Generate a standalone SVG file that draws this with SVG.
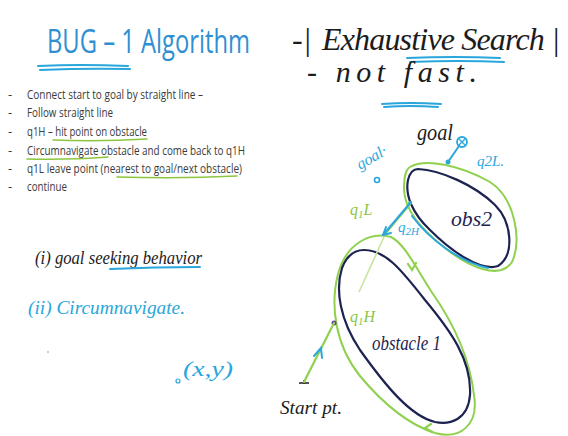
<svg xmlns="http://www.w3.org/2000/svg" width="568" height="436" viewBox="0 0 568 436">
<defs>
<style>
.bg{fill:#ffffff}
.slide{font-family:"Open Sans","Liberation Sans",sans-serif;fill:#3a3a3a;font-size:13px}
.title{font-family:"Open Sans","Liberation Sans",sans-serif;fill:#2f8fd2;font-size:33px}
.hand{font-family:"Liberation Serif","DejaVu Serif",serif;font-style:italic}
.ink{fill:#1c1c1c}
.cyan{fill:#2aa6dc}
.green{fill:#8cc63f}
.navy{fill:#1d2350}
.ul-cyan{stroke:#2aa6dc;stroke-width:2;fill:none;stroke-linecap:round}
.ul-green{stroke:#8cc63f;stroke-width:1.6;fill:none;stroke-linecap:round}
.obs{fill:none;stroke:#1d2350;stroke-width:2.2}
.loop{fill:none;stroke:#8fd14f;stroke-width:2}
.cline{fill:none;stroke:#2aa6dc;stroke-width:2;stroke-linecap:round}
.gline{fill:none;stroke:#8fd14f;stroke-width:2.2;stroke-linecap:round}
.faint{fill:none;stroke:#c5e69a;stroke-width:1.6}
</style>
</defs>
<rect class="bg" x="0" y="0" width="568" height="436"/>

<g id="slide-text">
<text class="title" transform="translate(47 53) scale(0.7 1)" x="0" y="0" textLength="290" lengthAdjust="spacingAndGlyphs">BUG – 1 Algorithm</text>
<path class="ul-cyan" d="M38 66 Q80 64 128 66 M40 70 Q85 68 130 69"/>
<g class="slide">
<text x="8" y="99">-</text><text x="27" y="99" textLength="176" lengthAdjust="spacingAndGlyphs">Connect start to goal by straight line –</text>
<text x="8" y="117">-</text><text x="27" y="117" textLength="86" lengthAdjust="spacingAndGlyphs">Follow straight line</text>
<text x="8" y="136">-</text><text x="27" y="136" textLength="120" lengthAdjust="spacingAndGlyphs">q1H – hit point on obstacle</text>
<text x="8" y="155">-</text><text x="27" y="155" textLength="218" lengthAdjust="spacingAndGlyphs">Circumnavigate obstacle and come back to q1H</text>
<text x="8" y="173">-</text><text x="27" y="173" textLength="215" lengthAdjust="spacingAndGlyphs">q1L  leave point (nearest to goal/next obstacle)</text>
<text x="8" y="191">-</text><text x="27" y="191" textLength="40" lengthAdjust="spacingAndGlyphs">continue</text>
</g>
<path class="ul-green" d="M53 140 Q100 142 147 139 M27 159 Q70 160 108 157 M117 177 Q180 179 237 176"/>
</g>

<g id="notes-left">
<text class="hand ink" x="35" y="264" font-size="18" textLength="167" lengthAdjust="spacingAndGlyphs">(i) goal seeking behavior</text>
<path class="ul-cyan" d="M110 269 Q155 267 200 267" stroke-width="1.6"/>
<text class="hand cyan" x="28" y="314" font-size="18" textLength="157" lengthAdjust="spacingAndGlyphs">(ii) Circumnavigate.</text>
<circle cx="48" cy="352" r="1" fill="#bbbbbb"/>
<circle cx="178" cy="381" r="2" fill="none" stroke="#2aa6dc" stroke-width="1.2"/>
<text class="hand cyan" x="183" y="376" font-size="22" textLength="50" lengthAdjust="spacingAndGlyphs">(x,y)</text>
</g>

<g id="notes-right">
<text class="hand ink" x="292" y="50" font-size="32">-|<tspan x="322" textLength="238" lengthAdjust="spacing">Exhaustive Search |</tspan></text>
<path class="ul-cyan" d="M407 58 Q455 56 500 58 M410 62 Q460 60 504 62"/>
<text class="hand ink" x="307" y="82" font-size="30" textLength="170" lengthAdjust="spacing">- not fast.</text>
<path class="ul-cyan" d="M382 104 Q410 102 441 104 M384 107 Q410 105 438 107"/>
</g>

<g id="obstacle1">
<path class="loop" d="M391 237 C370 231 346 244 338 274 C330 305 335 345 360 376 C385 406 410 425 435 433 C460 440 479 425 474 395 C470 360 455 325 431 291 C416 268 405 244 391 237 Z"/>
<path class="obs" d="M364 250 C385 250 400 268 425 300 C450 330 472 360 470 395 C468 420 450 425 435 422 C410 416 385 385 360 350 C340 320 335 290 342 268 C347 255 355 250 364 250 Z"/>
<text class="hand navy" x="372" y="350" font-size="20" textLength="69" lengthAdjust="spacingAndGlyphs">obstacle 1</text>
</g>

<g id="obstacle2">
<path class="loop" d="M410 167 C425 158 460 165 490 182 C515 198 522 240 512 262 C500 280 470 268 445 248 C420 228 405 210 404 190 C404 178 405 170 410 167 Z"/>
<path class="obs" d="M418 169 C440 170 475 185 495 205 C512 222 515 255 498 266 C480 272 450 250 430 230 C412 213 405 195 408 180 C410 172 414 169 418 169 Z"/>
<path class="cline" stroke-width="1.4" d="M412 216 C430 240 460 262 488 268"/>
<text class="hand navy" x="451" y="226" font-size="20" textLength="41" lengthAdjust="spacingAndGlyphs">obs2</text>
</g>

<g id="start">
<path d="M299 383 L309 383 M304 380 L304 384" stroke="#1c1c1c" stroke-width="1.5"/>
<text class="hand ink" x="280" y="414" font-size="18" textLength="62" lengthAdjust="spacingAndGlyphs">Start pt.</text>
</g>

<g id="goal">
<circle cx="462" cy="142" r="5" fill="none" stroke="#2aa6dc" stroke-width="1.8"/>
<path d="M458 138 L466 146 M466 138 L458 146" stroke="#2aa6dc" stroke-width="1.4"/>
<circle cx="377" cy="180" r="2.5" fill="none" stroke="#2aa6dc" stroke-width="1.6"/>
<text class="hand cyan" x="360" y="170" font-size="16" transform="rotate(-30 360 170)">goal·</text>
<text class="hand ink" x="417" y="140" font-size="24" textLength="36" lengthAdjust="spacingAndGlyphs">goal</text>
</g>

<g id="q1H">
<circle cx="334" cy="323" r="2.5" fill="#6a3fa0"/>
<text class="hand green" x="350" y="322" font-size="16">q<tspan font-size="11" dy="3">1</tspan><tspan dy="-3">H</tspan></text>
</g>

<g id="q1L">
<circle cx="410" cy="203" r="2" fill="#4cc08a"/>
<text class="hand green" x="350" y="215" font-size="16">q<tspan font-size="11" dy="3">1</tspan><tspan dy="-3">L</tspan></text>
</g>

<g id="q2H">
<text class="hand cyan" x="398" y="232" font-size="15">q<tspan font-size="11" dy="3">2H</tspan></text>
</g>

<g id="q2L">
<circle cx="448" cy="162" r="2.5" fill="#2aa6dc"/>
<text class="hand cyan" x="477" y="166" font-size="15">q2L.</text>
</g>

<g id="connectors">
<path class="faint" d="M359 292 L384 237"/>
<path class="gline" d="M304 382 L334 323"/>
<path class="cline" d="M314 356 L321 348 L322 358"/>
<path class="gline" d="M410 204 L385 234"/>
<path class="cline" d="M411 202 L383 235"/>
<path class="cline" d="M383 235 L386 227 M383 235 L391 233"/>
<path class="cline" stroke-width="2.6" d="M448 162 L459 146"/>
<path class="gline" d="M408 264 L412 270 L416 263"/>
<path class="gline" d="M431 424 L425 428 L432 432"/>
</g>
</svg>
